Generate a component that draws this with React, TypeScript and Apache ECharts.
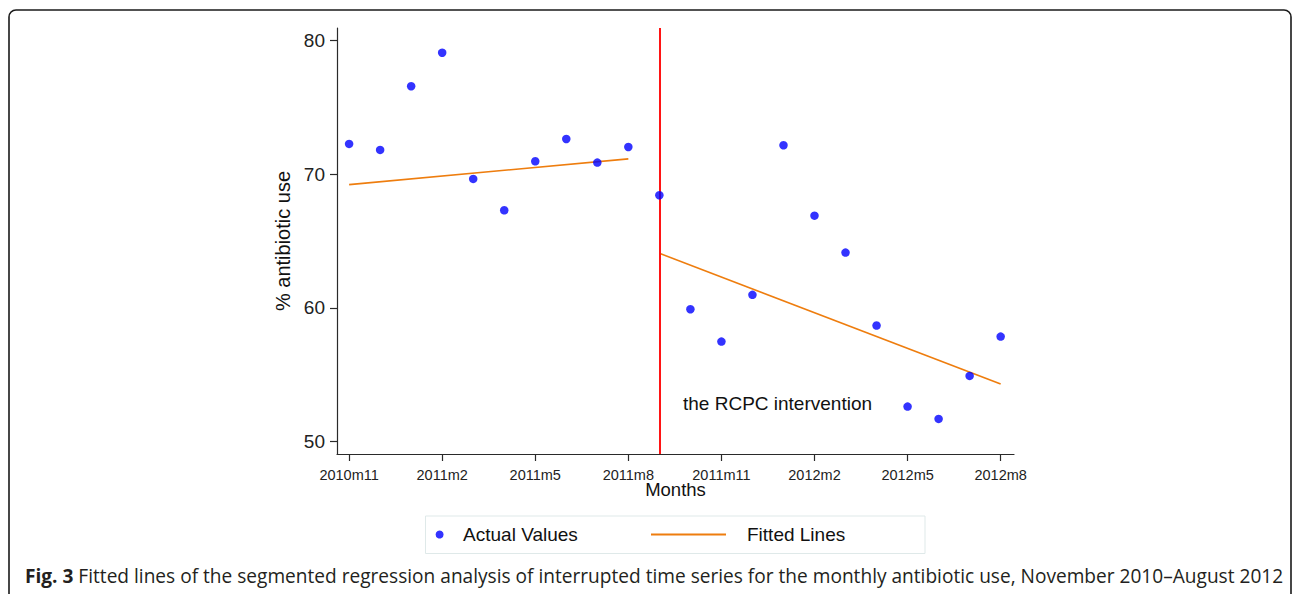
import React, { useEffect, useRef } from 'react';
import * as echarts from 'echarts';

const months = ['2010m11', '2010m12', '2011m1', '2011m2', '2011m3', '2011m4', '2011m5', '2011m6', '2011m7', '2011m8', '2011m9', '2011m10', '2011m11', '2011m12', '2012m1', '2012m2', '2012m3', '2012m4', '2012m5', '2012m6', '2012m7', '2012m8'];
const actualValues = [72.27, 71.82, 76.59, 79.1, 69.65, 67.3, 70.97, 72.64, 70.87, 72.04, 68.43, 59.89, 57.47, 60.97, 72.17, 66.9, 64.13, 58.67, 52.6, 51.68, 54.9, 57.84];
const tickMonths = ['2010m11', '2011m2', '2011m5', '2011m8', '2011m11', '2012m2', '2012m5', '2012m8'];
const yTicks = [50, 60, 70, 80];
const fitPreMonths = ['2010m11', '2011m8'];
const fitPreValues = [69.22, 71.15];
const fitPostMonths = ['2011m9', '2012m8'];
const fitPostValues = [64.08, 54.3];
const interventionMonth = '2011m9';
const interventionLabel = 'the RCPC intervention';
const caption = 'Fitted lines of the segmented regression analysis of interrupted time series for the monthly antibiotic use, November 2010\u2013August 2012';

const FONT = '"Liberation Sans", Arial, sans-serif';

export default function App() {
  const ref = useRef<HTMLDivElement>(null);
  useEffect(() => {
    if (!ref.current) return;
    const chart = echarts.init(ref.current, null, { renderer: 'svg' });
    const tickIdx = tickMonths.map((m) => months.indexOf(m));
    const scatterData = actualValues.map((v, i) => [i, v]);
    const pre = fitPreMonths.map((m, i) => [months.indexOf(m), fitPreValues[i]]);
    const post = fitPostMonths.map((m, i) => [months.indexOf(m), fitPostValues[i]]);
    const axisLineStyle = { color: '#2a2a2a', width: 1.2 };
    chart.setOption({
      animation: false,
      backgroundColor: '#fff',
      textStyle: { fontFamily: FONT },
      grid: { left: 337, right: 278, top: 28, bottom: 140 },
      xAxis: {
        type: 'value',
        min: -0.39,
        max: 21.43,
        axisLine: { show: true, onZero: false, lineStyle: axisLineStyle },
        axisTick: { show: true, length: 7, customValues: tickIdx, lineStyle: axisLineStyle },
        axisLabel: {
          customValues: tickIdx,
          formatter: (v: number) => months[Math.round(v)],
          fontSize: 14.5,
          color: '#222',
          margin: 13,
          fontFamily: FONT,
        },
        splitLine: { show: false },
        name: 'Months',
        nameLocation: 'middle',
        nameMoveOverlap: false,
        nameGap: 26,
        nameTextStyle: { fontSize: 18.5, color: '#111', fontFamily: FONT },
      },
      yAxis: {
        type: 'value',
        min: 49.05,
        max: 80.95,
        axisLine: { show: true, onZero: false, lineStyle: axisLineStyle },
        axisTick: { show: true, length: 7, customValues: yTicks, lineStyle: axisLineStyle },
        axisLabel: { customValues: yTicks, fontSize: 19, color: '#222', margin: 12, fontFamily: FONT },
        splitLine: { show: false },
        name: '% antibiotic use',
        nameLocation: 'middle',
        nameGap: 44,
        nameTextStyle: { fontSize: 20, color: '#111', fontFamily: FONT },
      },
      legend: [
        {
          data: [{ name: 'Actual Values', icon: 'circle' }],
          left: 435.6,
          top: 525,
          padding: 0,
          itemWidth: 37,
          itemHeight: 8,
          textStyle: { fontSize: 19, color: '#111', fontFamily: FONT },
        },
        {
          data: [{ name: 'Fitted Lines', icon: 'rect' }],
          left: 651,
          top: 525,
          padding: 0,
          itemWidth: 75,
          itemHeight: 2,
          itemStyle: { color: '#ee7d0e' },
          textStyle: { fontSize: 19, color: '#111', fontFamily: FONT, padding: [0, 0, 0, 16] },
        },
      ],
      series: [
        {
          name: 'Actual Values',
          type: 'scatter',
          data: scatterData,
          symbol: 'circle',
          symbolSize: 8.5,
          itemStyle: { color: '#0000ff' },
          z: 5,
          markLine: {
            silent: true,
            symbol: 'none',
            label: { show: false },
            lineStyle: { color: '#ff1414', width: 2, type: 'solid' },
            data: [{ xAxis: months.indexOf(interventionMonth) }],
          },
        },
        {
          name: 'Fitted Lines',
          type: 'line',
          data: pre,
          symbol: 'none',
          showSymbol: false,
          lineStyle: { color: '#ee7d0e', width: 1.6 },
          itemStyle: { color: '#ee7d0e' },
        },
        {
          name: 'Fitted Lines',
          type: 'line',
          data: post,
          symbol: 'none',
          showSymbol: false,
          lineStyle: { color: '#ee7d0e', width: 1.6 },
          itemStyle: { color: '#ee7d0e' },
        },
      ],
      graphic: [
        {
          type: 'rect',
          shape: { x: 9, y: 10, width: 1282, height: 620, r: 7 },
          style: { fill: 'none', stroke: '#1a1a1a', lineWidth: 1.6 },
          silent: true,
        },
        {
          type: 'rect',
          shape: { x: 425.5, y: 516, width: 499.5, height: 37.5 },
          style: { fill: 'none', stroke: '#dfe9e9', lineWidth: 1 },
          silent: true,
        },
        {
          type: 'text',
          x: 683,
          y: 403,
          style: {
            text: interventionLabel,
            fontSize: 19,
            fontFamily: FONT,
            fill: '#111',
            verticalAlign: 'middle',
          },
          silent: true,
        },
        {
          type: 'text',
          x: 25,
          y: 576,
          style: {
            text: '{b|Fig. 3} ' + caption,
            fontSize: 19.1,
            fontFamily: '"Open Sans", sans-serif',
            fill: '#231f20',
            verticalAlign: 'middle',
            rich: {
              b: { fontWeight: 'bold', fontSize: 19.1, fontFamily: '"Open Sans", sans-serif', fill: '#231f20' },
            },
          },
          silent: true,
        },
      ],
    });
    return () => chart.dispose();
  }, []);
  return <div ref={ref} style={{ position: 'absolute', left: 0, top: 0, width: 1292, height: 594 }} />;
}
